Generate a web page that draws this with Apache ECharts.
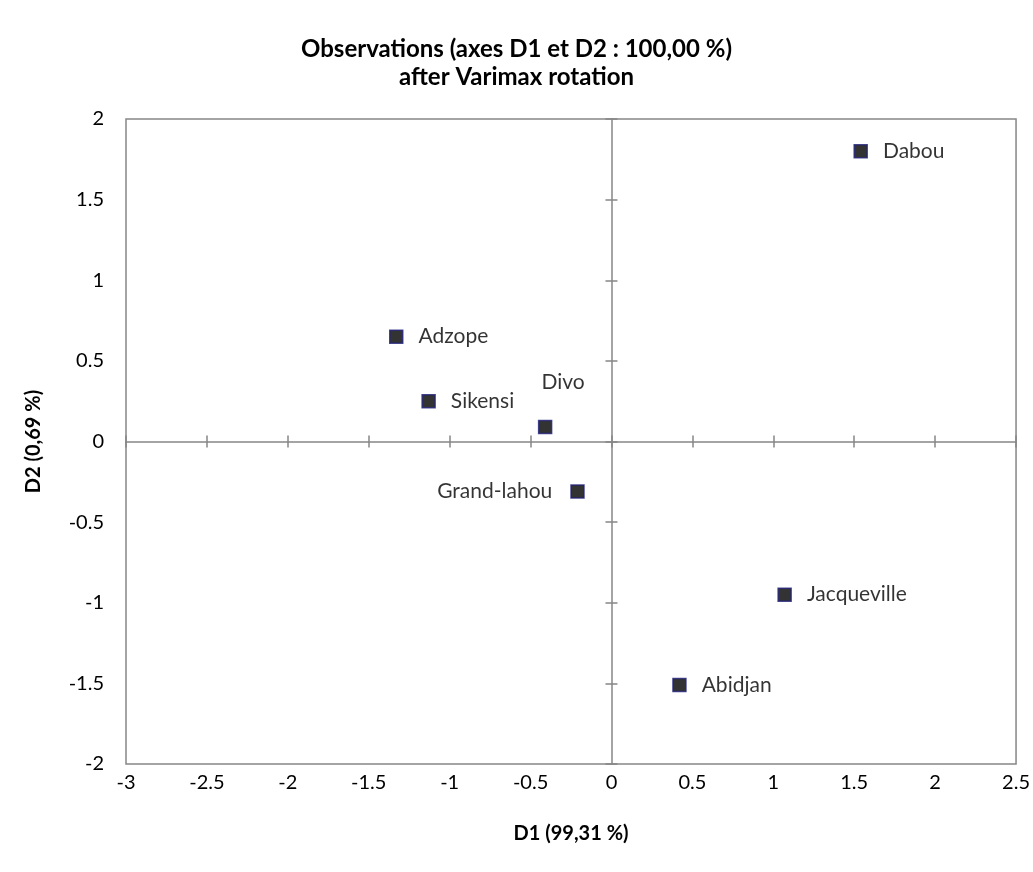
<!DOCTYPE html>
<html><head><meta charset="utf-8">
<script src="https://cdn.jsdelivr.net/npm/echarts@6/dist/echarts.min.js"></script>
<style>html,body{margin:0;padding:0;background:#fff}#c{width:1033px;height:872px}</style>
</head><body><div id="c"></div>
<script>
const names = ['Dabou','Adzope','Sikensi','Divo','Grand-lahou','Jacqueville','Abidjan'];
const d1 = [1.54, -1.33, -1.13, -0.41, -0.21, 1.07, 0.42];
const d2 = [1.80, 0.65, 0.25, 0.09, -0.31, -0.95, -1.51];
const labelPos = ['right','right','right','divo','left','right','right'];
const titleLines = ['Observations (axes D1 et D2 : 100,00 %)','after Varimax rotation'];
const xName = 'D1 (99,31 %)';
const yName = 'D2 (0,69 %)';

const FONT = 'Lato, "Open Sans", sans-serif';
const gray = '#868686';
const chart = echarts.init(document.getElementById('c'));
const data = names.map((n,i)=>{
  const p = labelPos[i];
  let label;
  if (p==='divo') label = {position:'top', offset:[18,-22]};
  else if (p==='left') label = {position:'left', distance:18};
  else label = {position:p, distance:15};
  return {name:n, value:[d1[i], d2[i]], label};
});
const baseX = {min:-3,max:2.5,interval:0.5};
const baseY = {min:-2,max:2,interval:0.5};
chart.setOption({
  animation:false,
  title:{text:titleLines.join('\n'), left:'center', top:30,
    textStyle:{fontFamily:FONT,fontSize:24,fontWeight:'bold',color:'#000',lineHeight:28}},
  grid:{left:126,top:119,width:891,height:645,show:true,borderColor:gray,borderWidth:1.5,backgroundColor:'transparent'},
  xAxis:[
    Object.assign({type:'value',position:'bottom',name:xName,nameLocation:'middle',nameGap:60,
      nameTextStyle:{fontFamily:FONT,fontSize:20,fontWeight:'bold',color:'#000'},
      axisLine:{show:false},axisTick:{show:false},splitLine:{show:false},
      axisLabel:{fontFamily:FONT,fontSize:20,color:'#000',margin:9}},baseX),
    Object.assign({type:'value',axisLine:{show:true,onZero:true,onZeroAxisIndex:0,lineStyle:{color:gray,width:1.5}},
      axisTick:{show:true,length:6,lineStyle:{color:gray,width:1.5}},axisLabel:{show:false},splitLine:{show:false}},baseX),
    Object.assign({type:'value',axisLine:{show:false,onZero:true,onZeroAxisIndex:0},
      axisTick:{show:true,inside:true,length:6,lineStyle:{color:gray,width:1.5}},axisLabel:{show:false},splitLine:{show:false}},baseX)
  ],
  yAxis:[
    Object.assign({type:'value',position:'left',name:yName,nameLocation:'middle',nameGap:82,nameRotate:90,
      nameTextStyle:{fontFamily:FONT,fontSize:20,fontWeight:'bold',color:'#000'},
      axisLine:{show:false},axisTick:{show:false},splitLine:{show:false},
      axisLabel:{fontFamily:FONT,fontSize:20,color:'#000',margin:22}},baseY),
    Object.assign({type:'value',axisLine:{show:true,onZero:true,onZeroAxisIndex:0,lineStyle:{color:gray,width:1.5}},
      axisTick:{show:true,length:6,lineStyle:{color:gray,width:1.5}},axisLabel:{show:false},splitLine:{show:false}},baseY),
    Object.assign({type:'value',axisLine:{show:false,onZero:true,onZeroAxisIndex:0},
      axisTick:{show:true,inside:true,length:6,lineStyle:{color:gray,width:1.5}},axisLabel:{show:false},splitLine:{show:false}},baseY)
  ],
  series:[{
    type:'scatter',xAxisIndex:0,yAxisIndex:0,symbol:'rect',symbolSize:13,
    itemStyle:{color:'#000',borderColor:'#1f1f7a',borderWidth:1.5},
    label:{show:true,formatter:'{b}',fontFamily:FONT,fontSize:21,color:'#000'},
    data:data
  }]
});
</script></body></html>
